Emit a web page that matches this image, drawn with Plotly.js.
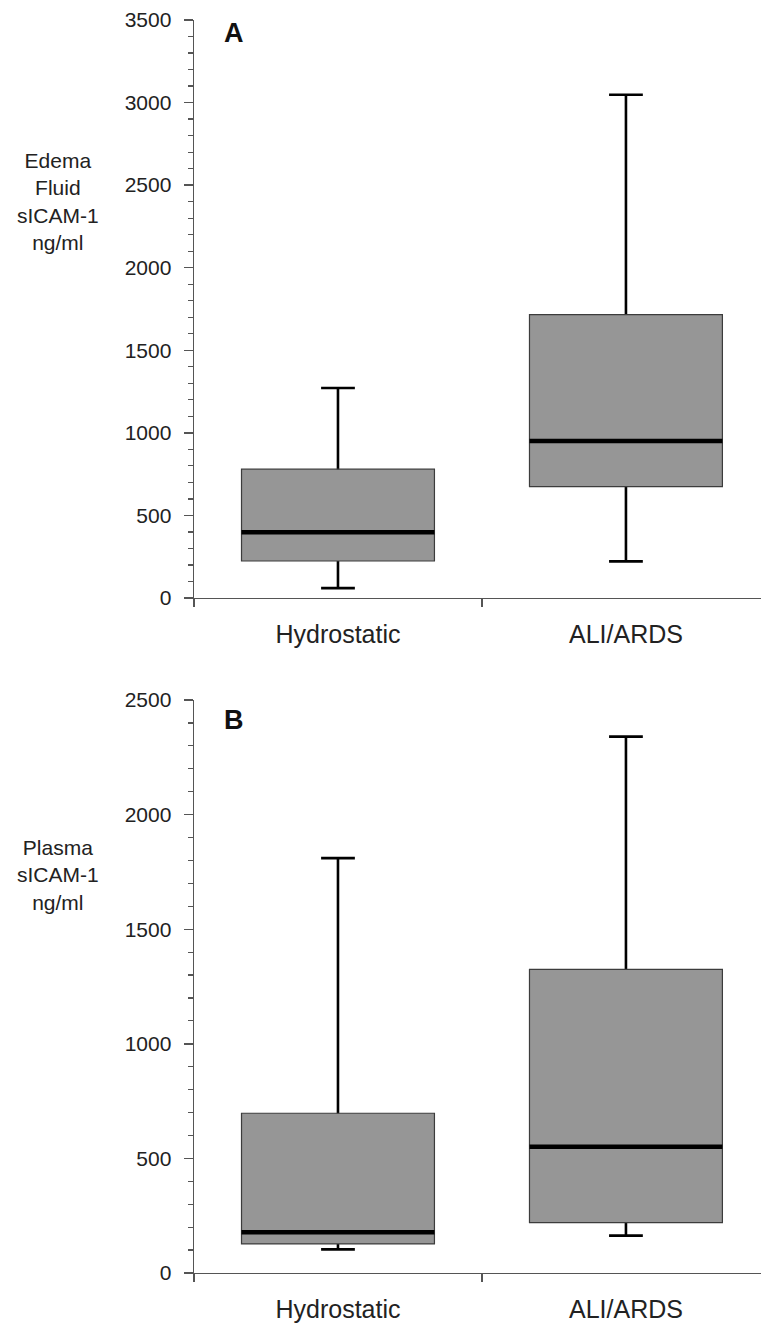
<!DOCTYPE html>
<html><head><meta charset="utf-8">
<script src="https://cdn.plot.ly/plotly-3.0.1.min.js"></script>
<style>html,body{margin:0;padding:0;background:#fff}#chart{width:761px;height:1326px}</style>
</head><body><div id="chart"></div>
<script>
// ---- data ----
const categories = ['Hydrostatic', 'ALI/ARDS'];
// Panel A: edema fluid sICAM-1 (ng/ml)
const edemaLower  = [60, 222];
const edemaQ1     = [224, 674];
const edemaMedian = [398, 950];
const edemaQ3     = [780, 1716];
const edemaUpper  = [1272, 3047];
// Panel B: plasma sICAM-1 (ng/ml)
const plasmaLower  = [103, 163];
const plasmaQ1     = [127, 220];
const plasmaMedian = [178, 551];
const plasmaQ3     = [697, 1325];
const plasmaUpper  = [1810, 2340];
// tick values
const yTicksA = [0, 500, 1000, 1500, 2000, 2500, 3000, 3500];
const yTicksB = [0, 500, 1000, 1500, 2000, 2500];

const FONT = 'Liberation Sans, Arial, Helvetica, sans-serif';
const BOXW = 0.67;

function panel(lower, q1, med, q3, upper, xa, ya) {
  const common = {type: 'box', x: categories, xaxis: xa, yaxis: ya, width: BOXW,
                  hoverinfo: 'skip', showlegend: false, boxpoints: false};
  // whiskers (drawn beneath the box)
  const whisk = Object.assign({}, common, {
    q1: med, median: med, q3: med, lowerfence: lower, upperfence: upper,
    whiskerwidth: 0.175, line: {color: '#000', width: 2.6}, fillcolor: '#969696'
  });
  // box body
  const body = Object.assign({}, common, {
    q1: q1, median: med, q3: q3, lowerfence: q1, upperfence: q3,
    whiskerwidth: 0, line: {color: '#3c3c3c', width: 1.2}, fillcolor: '#969696'
  });
  // thick median line
  const medTrace = Object.assign({}, common, {
    q1: med, median: med, q3: med, lowerfence: med, upperfence: med,
    whiskerwidth: 0, line: {color: '#000', width: 4.5}, fillcolor: 'rgba(0,0,0,0)'
  });
  return [whisk, body, medTrace];
}

const data = [].concat(
  panel(edemaLower, edemaQ1, edemaMedian, edemaQ3, edemaUpper, 'x', 'y'),
  panel(plasmaLower, plasmaQ1, plasmaMedian, plasmaQ3, plasmaUpper, 'x2', 'y2')
);

const L = 194, T = 20, B = 53, W = 761, H = 1326;
const plotH = H - T - B, plotW = W - L;
const py = v => (H - B - v) / plotH;   // pixel y -> paper
const px = v => (v - L) / plotW;       // pixel x -> paper

const xCommon = {
  type: 'category', range: [-0.5, 1.469], showline: true, linecolor: '#555', linewidth: 1.4,
  ticks: 'outside', ticklen: 8, tickcolor: '#555', tickwidth: 1.4, tickson: 'boundaries',
  showgrid: false, zeroline: false, tickfont: {family: FONT, size: 25, color: '#222'},
  ticklabelstandoff: 14
};
const yCommon = {
  showline: true, linecolor: '#555', linewidth: 1.4, ticks: 'outside', ticklen: 9,
  tickcolor: '#555', tickwidth: 1.4, showgrid: false, zeroline: false,
  tickfont: {family: FONT, size: 21, color: '#222'}, ticklabelstandoff: 8,
  minor: {dtick: 100, ticks: 'outside', ticklen: 5, tickcolor: '#555', tickwidth: 1.2, showgrid: false}
};

const layout = {
  width: W, height: H,
  margin: {l: L, r: 0, t: T, b: B},
  paper_bgcolor: '#fff', plot_bgcolor: '#fff',
  boxmode: 'overlay',
  xaxis: Object.assign({}, xCommon, {anchor: 'y', domain: [0, 1]}),
  xaxis2: Object.assign({}, xCommon, {anchor: 'y2', domain: [0, 1]}),
  yaxis: Object.assign({}, yCommon, {anchor: 'x', domain: [py(598), 1], range: [0, 3500], tickvals: yTicksA}),
  yaxis2: Object.assign({}, yCommon, {anchor: 'x2', domain: [0, py(700)], range: [0, 2500], tickvals: yTicksB}),
  annotations: [
    {text: 'Edema<br>Fluid<br>sICAM-1<br>ng/ml', xref: 'paper', yref: 'paper', x: px(58), y: py(202),
     xanchor: 'center', yanchor: 'middle', showarrow: false, align: 'center',
     font: {family: FONT, size: 21, color: '#222'}},
    {text: 'Plasma<br>sICAM-1<br>ng/ml', xref: 'paper', yref: 'paper', x: px(58), y: py(875),
     xanchor: 'center', yanchor: 'middle', showarrow: false, align: 'center',
     font: {family: FONT, size: 21, color: '#222'}},
    {text: '<b>A</b>', xref: 'paper', yref: 'paper', x: px(234), y: py(33),
     xanchor: 'center', yanchor: 'middle', showarrow: false,
     font: {family: FONT, size: 27, color: '#111'}},
    {text: '<b>B</b>', xref: 'paper', yref: 'paper', x: px(234), y: py(720),
     xanchor: 'center', yanchor: 'middle', showarrow: false,
     font: {family: FONT, size: 27, color: '#111'}}
  ]
};

Plotly.newPlot('chart', data, layout, {staticPlot: true, displayModeBar: false});
</script>
</body></html>
